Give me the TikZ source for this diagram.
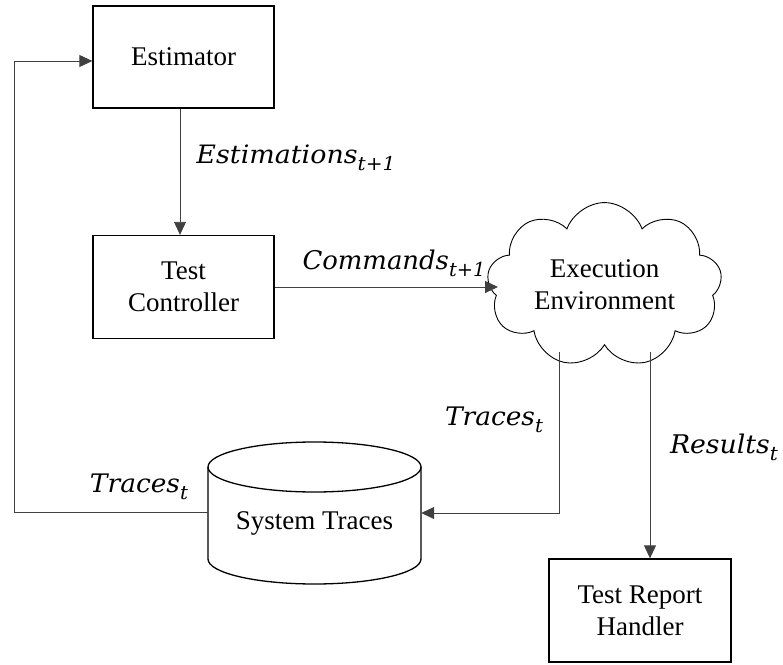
\documentclass[tikz,border=0pt]{standalone}
\usepackage{fontspec}
\setmainfont{Liberation Serif}
\newfontfamily\boxfont{Liberation Serif}
\newfontfamily\lblfont{DejaVu Serif}
\usetikzlibrary{arrows.meta,shapes.symbols,shapes.geometric}
\newcommand{\lbl}[4]{\resizebox*{#1pt}{#2pt}{\lblfont\fontsize{20}{24}\selectfont\itshape #3\raisebox{-0.28em}{\fontsize{15}{16}\selectfont #4}}}
\begin{document}
\begin{tikzpicture}[x=1pt,y=1pt,
  txt/.style={font=\boxfont\fontsize{27}{32}\selectfont},
  box/.style={txt,draw=black,line width=1.3pt,rectangle,minimum width=181pt,minimum height=102pt,inner sep=0pt,align=center},
  conn/.style={draw=black!75,line width=0.9pt,-{Triangle[length=13pt,width=12pt]}},
  cyl/.style={draw=black,line width=1.3pt}]
\useasboundingbox (0,0) rectangle (783,664);
\node[box] (est) at (183.5,607) {Estimator};
\node[box,minimum height=103pt] (tc) at (183.5,377) {Test\\Controller};
\node[box,minimum width=182pt,minimum height=103pt] (trh) at (640,53.5) {Test Report\\Handler};
\node[txt,cloud,draw=black,line width=0.9pt,cloud puffs=9,cloud puff arc=140,aspect=1.6,minimum width=235pt,minimum height=145pt,inner sep=0pt,align=center] (cloud) at (604.5,379) {Execution\\Environment};
% cylinder
\node[minimum width=213pt,minimum height=142pt,inner sep=0pt] (st) at (314.5,151) {};
\draw[cyl] (208,197) -- (208,105) arc[start angle=180,end angle=360,x radius=106.5,y radius=25] -- (421,197);
\draw[cyl] (314.5,197) ellipse[x radius=106.5,y radius=25];
\node[txt] (stlabel) at (314.5,141) {System Traces};
% connectors
\draw[conn] ([xshift=-3.5pt]est.south) -- ([xshift=-3.5pt]tc.north);
\draw[conn] (tc.east) -- (tc.east -| 498,0);
\coordinate (c1) at (559,312);
\coordinate (c2) at (650,312);
\draw[conn] (c1) |- (st.east);
\draw[conn] (c2) -- (c2 |- trh.north);
\coordinate (fb) at (14,152);
\draw[conn] (st.west |- fb) -- (fb) |- ([yshift=-4pt]est.west);
% labels
\node[inner sep=0pt] (l1) at (296,506) {\lbl{199}{26}{Estimations}{\textit{t}+1}};
\node[inner sep=0pt] (l2) at (394,401) {\lbl{183}{27}{Commands}{\textit{t}+1}};
\node[inner sep=0pt] (l3) at (494,244) {\lbl{98}{26}{Traces}{\textit{t}}};
\node[inner sep=0pt] (l4) at (139,177) {\lbl{98}{26}{Traces}{\textit{t}}};
\node[inner sep=0pt] (l5) at (724,217) {\lbl{108}{27}{Results}{\textit{t}}};
\end{tikzpicture}
\end{document}
